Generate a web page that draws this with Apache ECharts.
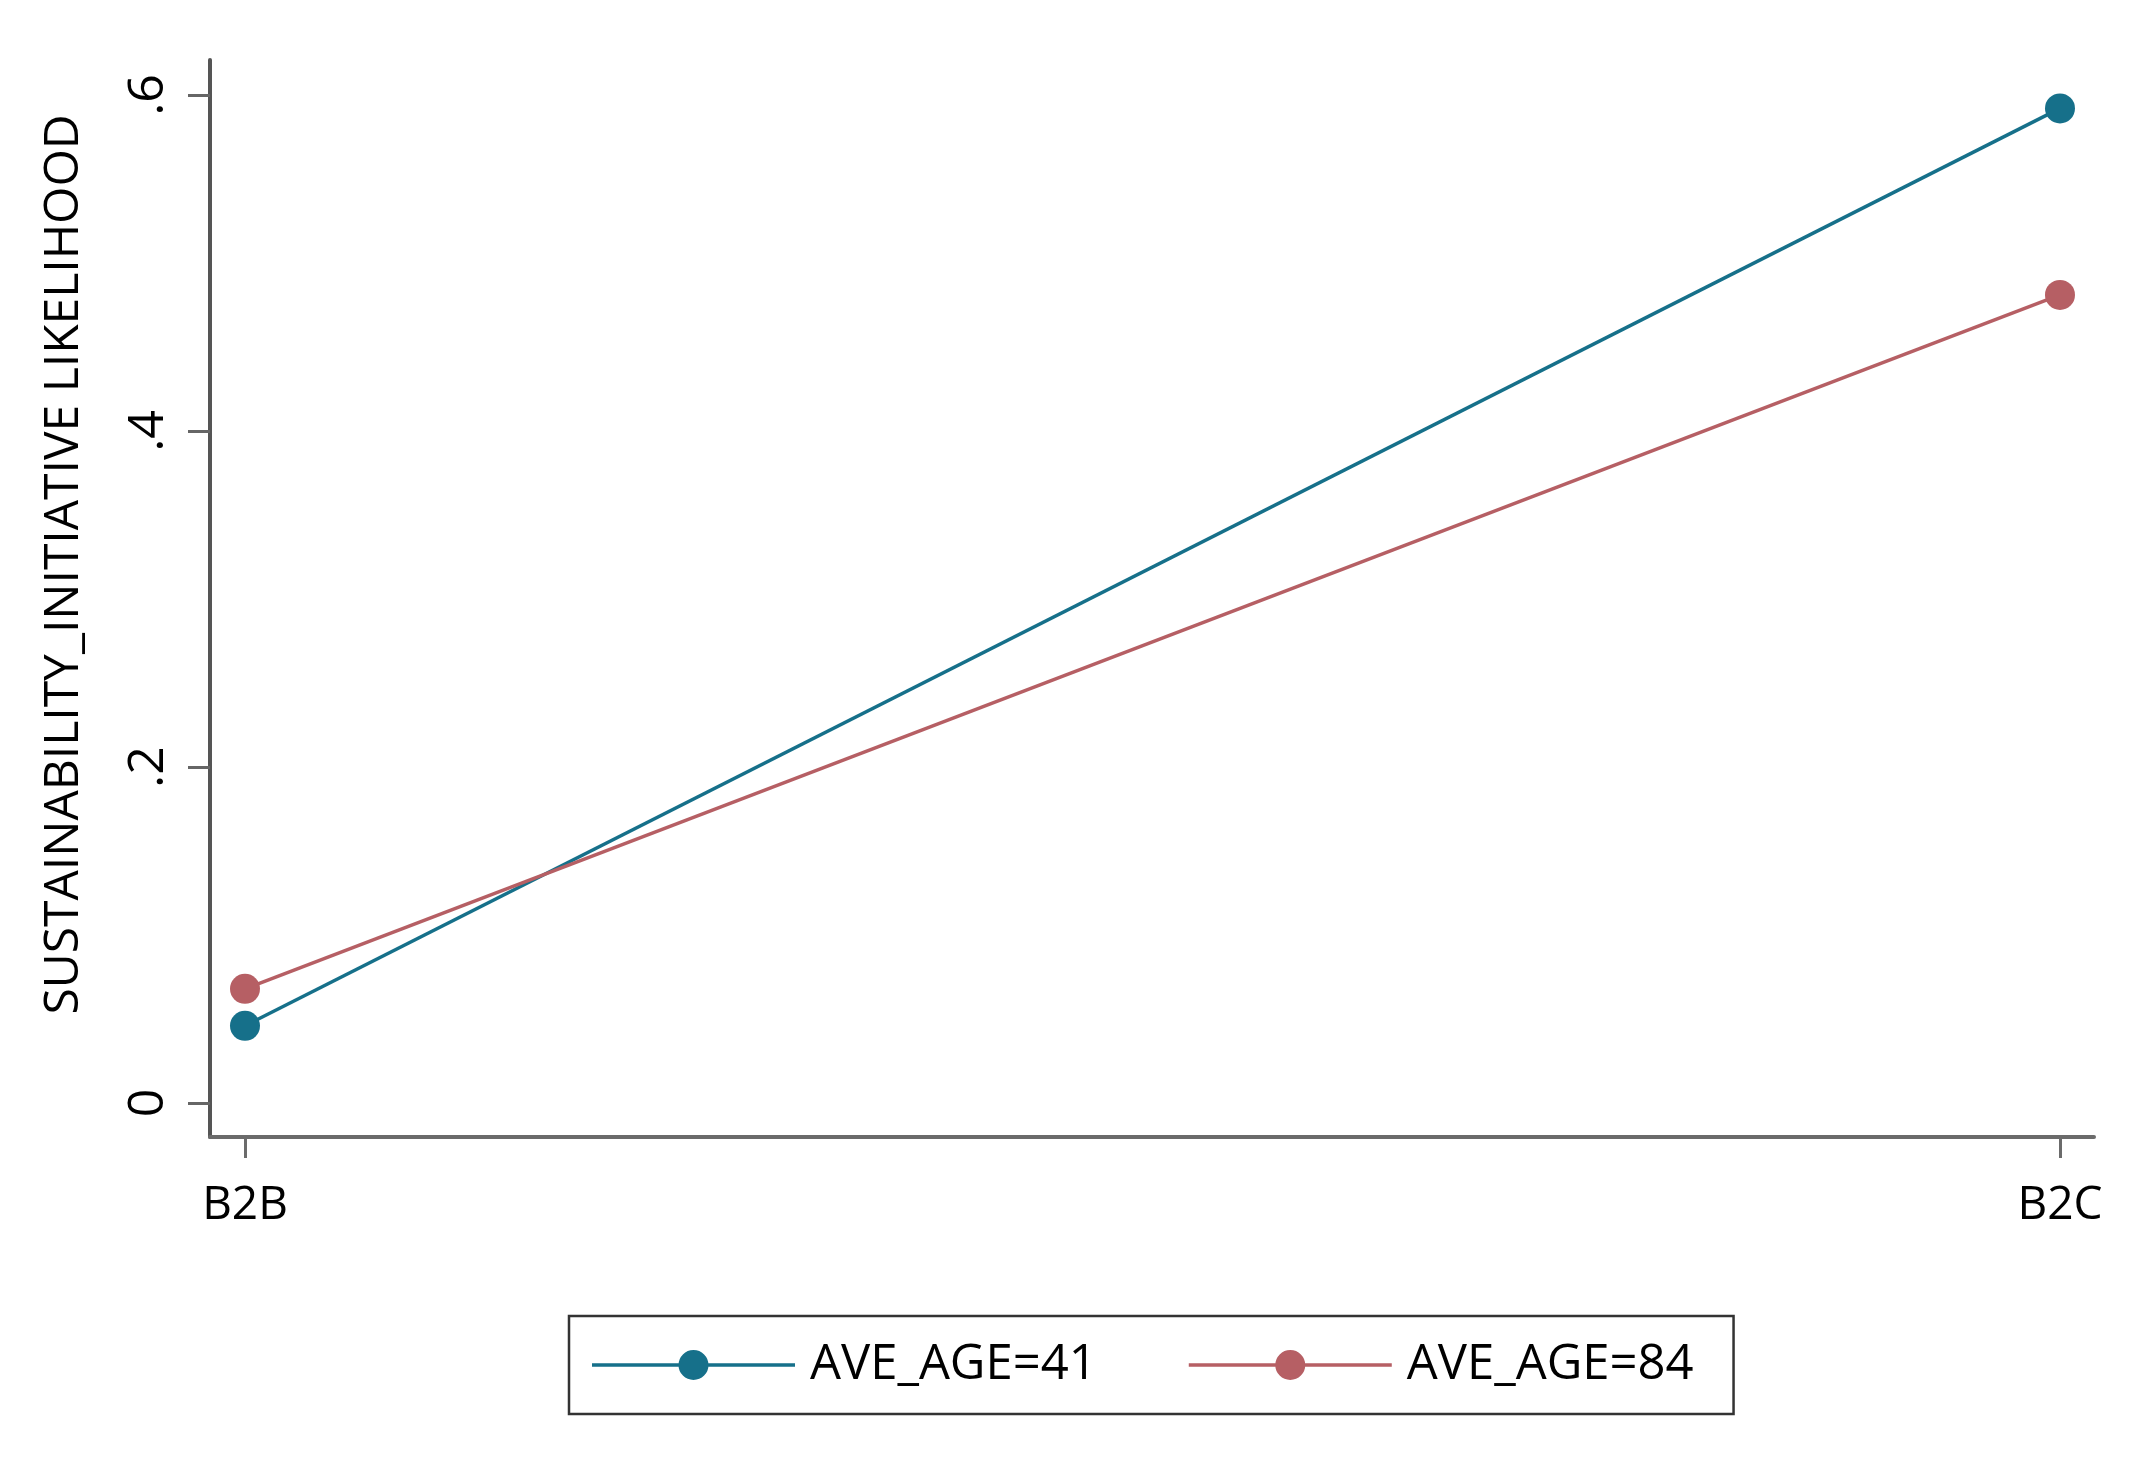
<!DOCTYPE html>
<html>
<head>
<meta charset="utf-8">
<script src="https://cdn.jsdelivr.net/npm/echarts@6/dist/echarts.min.js"></script>
<style>
html,body{margin:0;padding:0;background:#fff;}
#chart{width:2132px;height:1460px;}
</style>
</head>
<body>
<div id="chart"></div>
<script>
const categories = ['B2B', 'B2C'];
const seriesNames = ['AVE_AGE=41', 'AVE_AGE=84'];
const age41 = [0.046, 0.592];
const age84 = [0.068, 0.481];
const yTicks = [0, 0.2, 0.4, 0.6];
const yTickLabels = ['0', '.2', '.4', '.6'];
const xTicks = [0, 1];

const colors = ['#16708a', '#b65f64'];
const font = '"Open Sans", "Noto Sans", sans-serif';
const legendIcon = 'path://M0,13.2 L88,13.2 L88,16.8 L0,16.8 Z M115,13.2 L203,13.2 L203,16.8 L115,16.8 Z M101.5,0 A15,15 0 1,1 101.5,30 A15,15 0 1,1 101.5,0 Z';

function toPairs(vals) { return vals.map((v, i) => [i, v]); }

const chart = echarts.init(document.getElementById('chart'), null, {renderer: 'canvas'});
chart.setOption({
  backgroundColor: '#ffffff',
  animation: false,
  color: colors,
  grid: {left: 210, right: 38, top: 60, bottom: 323, containLabel: false},
  xAxis: {
    type: 'value',
    min: -0.01928, max: 1.01874,
    splitLine: {show: false},
    axisLine: {show: true, onZero: false, lineStyle: {color: '#6b6b6b', width: 4}},
    axisTick: {show: true, customValues: xTicks, length: 21, lineStyle: {color: '#6b6b6b', width: 3}},
    axisLabel: {
      show: true, customValues: xTicks, margin: 46,
      fontFamily: font, fontSize: 46, color: '#000',
      formatter: v => categories[Math.round(v)]
    }
  },
  yAxis: {
    type: 'value',
    min: -0.0202, max: 0.6208,
    splitLine: {show: false},
    axisLine: {show: true, onZero: false, lineStyle: {color: '#555', width: 4}},
    axisTick: {show: true, customValues: yTicks, length: 22, lineStyle: {color: '#666', width: 3}},
    axisLabel: {
      show: true, customValues: yTicks, rotate: 90, margin: 36,
      fontFamily: font, fontSize: 50, color: '#000',
      formatter: v => { const i = yTicks.findIndex(t => Math.abs(t - v) < 1e-6); return i >= 0 ? yTickLabels[i] : ''; }
    },
    name: 'SUSTAINABILITY_INITIATIVE LIKELIHOOD',
    nameLocation: 'middle',
    nameRotate: 90,
    nameGap: 122,
    nameTextStyle: {fontFamily: font, fontSize: 48, color: '#000', padding: [0, 0, 0, 68]}
  },
  legend: {
    left: 569, top: 1316,
    orient: 'horizontal',
    padding: [22, 40, 22, 23],
    icon: legendIcon,
    itemWidth: 203, itemHeight: 30, itemGap: 92,
    borderColor: '#333', borderWidth: 2.5, borderRadius: 0,
    backgroundColor: '#fff',
    textStyle: {fontFamily: font, fontSize: 49, color: '#000', padding: [0, 0, 0, 10], lineHeight: 54},
    data: seriesNames
  },
  series: [
    {
      name: seriesNames[0], type: 'line', data: toPairs(age41),
      symbol: 'circle', symbolSize: 30, showSymbol: true,
      lineStyle: {width: 3.5, color: colors[0]}, itemStyle: {color: colors[0]}
    },
    {
      name: seriesNames[1], type: 'line', data: toPairs(age84),
      symbol: 'circle', symbolSize: 30, showSymbol: true,
      lineStyle: {width: 3.5, color: colors[1]}, itemStyle: {color: colors[1]}
    }
  ]
});
</script>
</body>
</html>
